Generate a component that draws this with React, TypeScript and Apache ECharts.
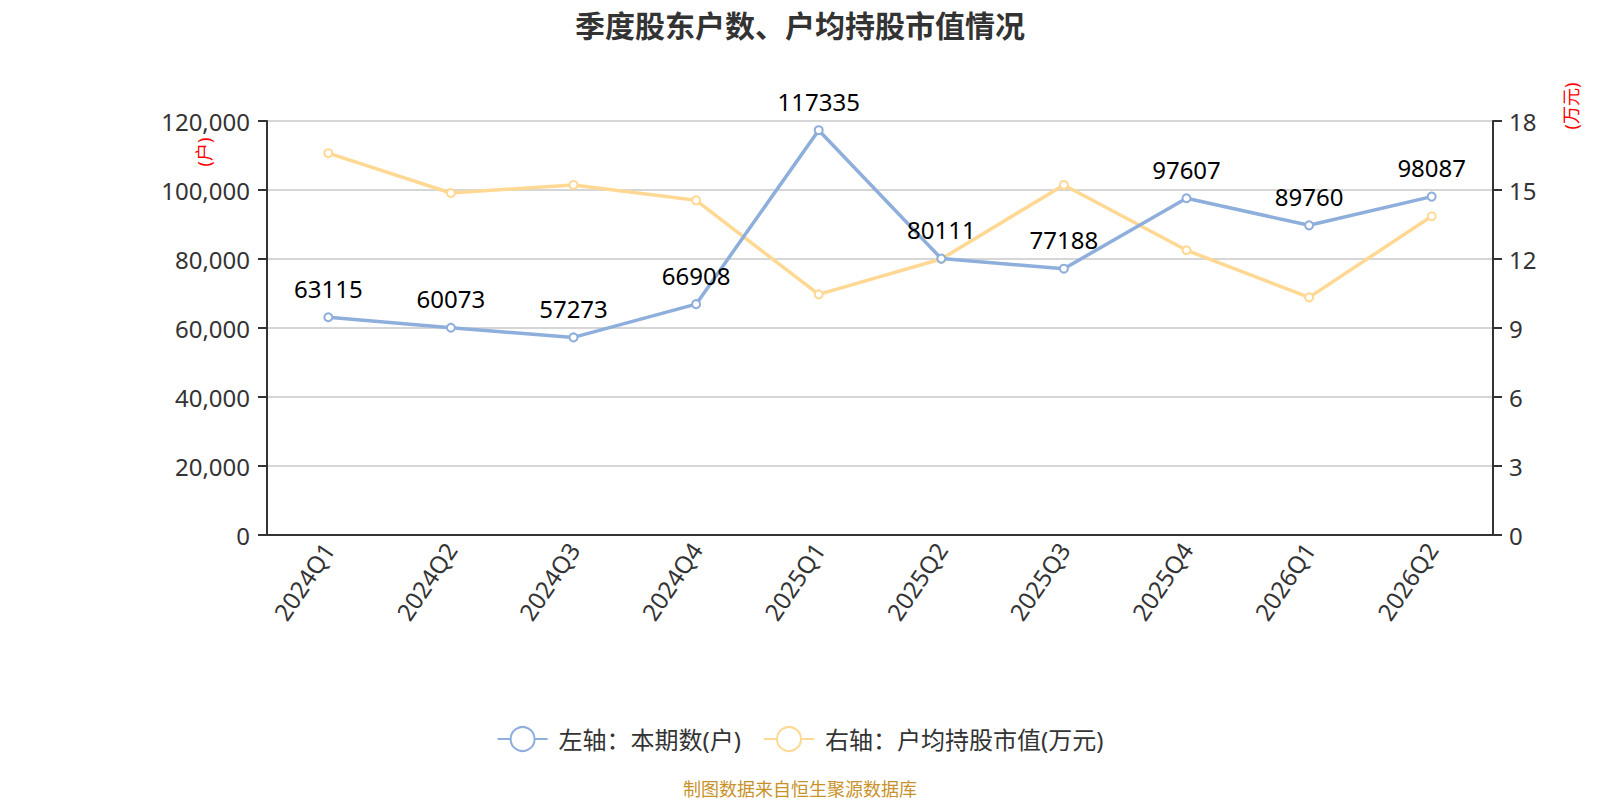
import React, { useEffect, useRef } from "react";
import * as echarts from "echarts";

const categories = ["2024Q1", "2024Q2", "2024Q3", "2024Q4", "2025Q1", "2025Q2", "2025Q3", "2025Q4", "2026Q1", "2026Q2"];
const holders = [63115, 60073, 57273, 66908, 117335, 80111, 77188, 97607, 89760, 98087];
const avgValue = [16.6, 14.87, 15.22, 14.55, 10.46, 12.0, 15.22, 12.38, 10.33, 13.86];
const seriesNames = ["左轴：本期数(户)", "右轴：户均持股市值(万元)"];
const titleText = "季度股东户数、户均持股市值情况";
const leftUnit = "(户)";
const rightUnit = "(万元)";
const footerText = "制图数据来自恒生聚源数据库";

const FONT = "'Noto Sans', 'Noto Sans CJK SC', sans-serif";

export default function App() {
  const ref = useRef<HTMLDivElement>(null);
  useEffect(() => {
    if (!ref.current) return;
    const chart = echarts.init(ref.current, undefined, { renderer: "svg" });
    chart.setOption({
      animation: false,
      textStyle: { fontFamily: FONT },
      title: {
        text: titleText,
        left: "center",
        top: 5,
        textStyle: { fontSize: 30, fontWeight: "bold", color: "#333", fontFamily: FONT },
      },
      legend: {
        top: 721,
        left: "center",
        itemWidth: 50,
        itemHeight: 30,
        itemGap: 22,
        textStyle: { fontSize: 24, color: "#333", fontFamily: FONT, padding: [0, 0, 0, 6] },
        data: seriesNames,
      },
      grid: { left: 267, right: 107, top: 121, bottom: 265 },
      xAxis: {
        type: "category",
        data: categories,
        axisLine: { lineStyle: { color: "#333", width: 2 } },
        axisTick: { lineStyle: { color: "#333", width: 2 }, length: 9 },
        axisLabel: { rotate: 56, fontSize: 24, color: "#333", margin: 10, fontFamily: FONT },
      },
      yAxis: [
        {
          type: "value",
          min: 0,
          max: 120000,
          interval: 20000,
          axisLine: { show: true, lineStyle: { color: "#333", width: 2 } },
          axisTick: { show: true, length: 9, lineStyle: { color: "#333", width: 2 } },
          axisLabel: {
            fontSize: 24,
            color: "#333",
            margin: 17,
            fontFamily: FONT,
            formatter: (v: number) => v.toLocaleString("en-US"),
          },
          splitLine: { lineStyle: { color: "#c8c8c8", width: 1.5 } },
        },
        {
          type: "value",
          min: 0,
          max: 18,
          interval: 3,
          axisLine: { show: true, lineStyle: { color: "#333", width: 2 } },
          axisTick: { show: true, length: 9, lineStyle: { color: "#333", width: 2 } },
          axisLabel: { fontSize: 24, color: "#333", margin: 16, fontFamily: FONT },
          splitLine: { show: false },
        },
      ],
      series: [
        {
          name: seriesNames[0],
          type: "line",
          yAxisIndex: 0,
          data: holders,
          symbol: "emptyCircle",
          symbolSize: 8,
          lineStyle: { width: 3.5, color: "#8eaedb" },
          itemStyle: { color: "#8eaedb", borderWidth: 1.5 },
          label: {
            show: true,
            position: "top",
            distance: 12,
            fontSize: 24,
            color: "#000",
            fontFamily: FONT,
          },
          z: 3,
        },
        {
          name: seriesNames[1],
          type: "line",
          yAxisIndex: 1,
          data: avgValue,
          symbol: "emptyCircle",
          symbolSize: 8,
          lineStyle: { width: 3.5, color: "#ffd993" },
          itemStyle: { color: "#ffd993", borderWidth: 1.5 },
          z: 2,
        },
      ],
      graphic: [
        {
          type: "text",
          x: 204,
          y: 152,
          rotation: Math.PI / 2,
          style: { text: leftUnit, fill: "#ff0000", fontSize: 18, align: "center", verticalAlign: "middle", fontFamily: FONT },
        },
        {
          type: "text",
          x: 1571,
          y: 106,
          rotation: Math.PI / 2,
          style: { text: rightUnit, fill: "#ff0000", fontSize: 18, align: "center", verticalAlign: "middle", fontFamily: FONT },
        },
        {
          type: "text",
          x: 800,
          y: 789,
          style: { text: footerText, fill: "#c8922a", fontSize: 18, align: "center", verticalAlign: "middle", fontFamily: FONT },
        },
      ],
    });
    return () => chart.dispose();
  }, []);
  return <div ref={ref} style={{ position: "absolute", left: 0, top: 0, width: 1600, height: 800 }} />;
}
